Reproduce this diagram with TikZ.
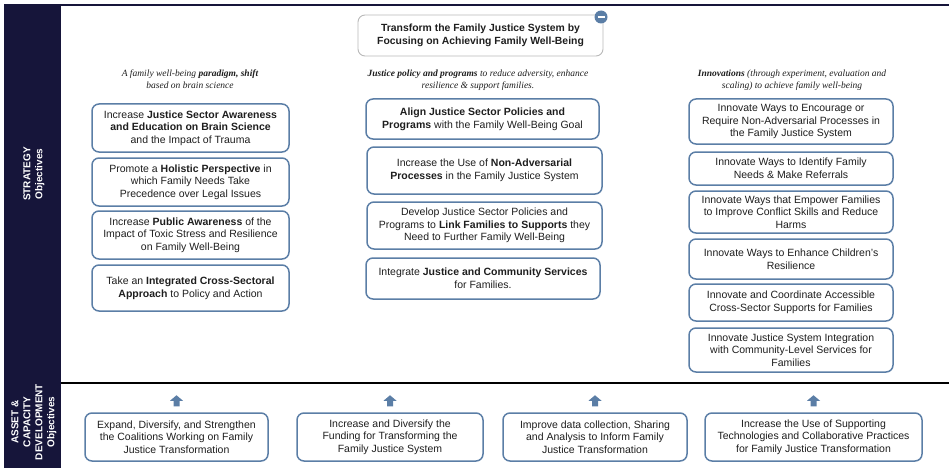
\documentclass[tikz,border=0pt]{standalone}
\usepackage{fontspec}
\setmainfont{Liberation Sans}
\newfontfamily\headserif{Liberation Serif}
\usepackage{tikz}
\usetikzlibrary{shapes}

\definecolor{sidenavy}{HTML}{16153A}
\definecolor{boxblue}{HTML}{5B7EA6}
\definecolor{goalgray}{HTML}{B8B8B8}
\definecolor{textgray}{HTML}{1E1E1E}

\tikzset{
  objbox/.style={draw=boxblue, line width=1.5pt, rounded corners=7pt, align=center,
    inner sep=1pt, text=textgray, font=\fontsize{10.5}{12.7}\selectfont},
  goalbox/.style={draw=goalgray, line width=0.9pt, rounded corners=7pt, align=center,
    inner sep=1pt, text=textgray, font=\fontsize{10.4}{13}\selectfont\bfseries},
  heading/.style={align=center, inner sep=0pt, text=textgray,
    font=\fontsize{9.5}{11.5}\selectfont\headserif\itshape},
  sidelabel/.style={rotate=90, align=center, text=white, inner sep=0pt,
    font=\fontsize{10}{12}\selectfont\bfseries},
  uparr/.pic={\fill[boxblue] (-3,0) -- (-3,-5.5) -- (-6.5,-5.5) -- (0,-11) -- (6.5,-5.5) -- (3,-5.5) -- (3,0) -- cycle;}
}

\begin{document}
\begin{tikzpicture}[x=1pt,y=-1pt]
\useasboundingbox (0,0) rectangle (949,468);

% frame and side bar
\fill [sidenavy] (4,5) rectangle (61,468);
\draw [sidenavy, line width=2pt] (4,5.5) -- (949,5.5);
\draw [black, line width=2pt] (61,383) -- (949,383);

\node (StrategyLabel) at (34,174) [sidelabel]{STRATEGY\\Objectives};
\node (AssetLabel) at (34,422) [sidelabel]{ASSET \&\\CAPACITY\\DEVELOPMENT\\Objectives};

% goal
\node (Goal) at (480.5,35.5) [goalbox, minimum width=245, minimum height=41]{Transform the Family Justice System by\\Focusing on Achieving Family Well-Being};
\node (Collapse) at (601,17) [circle, fill=boxblue, minimum size=13, inner sep=0]{\color{white}\rule[-0.8pt]{7pt}{1.6pt}};

% column headings
\node (ParadigmHead) at (190,79) [heading]{A family well-being \textbf{paradigm, shift}\\based on brain science};
\node (PolicyHead) at (478,80) [heading]{\textbf{Justice policy and programs} to reduce adversity, enhance\\resilience \& support families.};
\node (InnovHead) at (792,80) [heading]{\textbf{Innovations} (through experiment, evaluation and\\scaling) to achieve family well-being};

% paradigm column
\node (BrainScience) at (190.5,128) [objbox, minimum width=197, minimum height=48]{Increase \textbf{Justice Sector Awareness}\\\textbf{and Education on Brain Science}\\and the Impact of Trauma};
\node (Holistic) at (190.5,182) [objbox, minimum width=197, minimum height=48]{Promote a \textbf{Holistic Perspective} in\\which Family Needs Take\\Precedence over Legal Issues};
\node (PublicAware) at (190.5,235) [objbox, minimum width=197, minimum height=48]{Increase \textbf{Public Awareness} of the\\Impact of Toxic Stress and Resilience\\on Family Well-Being};
\node (CrossSector) at (190.5,288) [objbox, minimum width=197, minimum height=46]{Take an \textbf{Integrated Cross-Sectoral}\\\textbf{Approach} to Policy and Action};

% policy column
\node (AlignPolicies) at (482.5,119) [objbox, minimum width=233, minimum height=40]{\textbf{Align Justice Sector Policies and}\\\textbf{Programs} with the Family Well-Being Goal};
\node (NonAdversarial) at (484.5,170.5) [objbox, minimum width=235, minimum height=47]{Increase the Use of \textbf{Non-Adversarial}\\\textbf{Processes} in the Family Justice System};
\node (LinkSupports) at (484.5,225.5) [objbox, minimum width=235, minimum height=47]{Develop Justice Sector Policies and\\Programs to \textbf{Link Families to Supports} they\\Need to Further Family Well-Being};
\node (IntegrateServices) at (483,278.5) [objbox, minimum width=234, minimum height=41]{Integrate \textbf{Justice and Community Services}\\for Families.};

% innovation column
\node (InnovEncourage) at (791,121.5) [objbox, minimum width=204, minimum height=45]{Innovate Ways to Encourage or\\Require Non-Adversarial Processes in\\the Family Justice System};
\node (InnovIdentify) at (791,168.5) [objbox, minimum width=204, minimum height=33]{Innovate Ways to Identify Family\\Needs \& Make Referrals};
\node (InnovEmpower) at (791,212) [objbox, minimum width=204, minimum height=42]{Innovate Ways that Empower Families\\to Improve Conflict Skills and Reduce\\Harms};
\node (InnovResilience) at (791,259) [objbox, minimum width=204, minimum height=40]{Innovate Ways to Enhance Children's\\Resilience};
\node (InnovCoordinate) at (791,302.5) [objbox, minimum width=204, minimum height=37]{Innovate and Coordinate Accessible\\Cross-Sector Supports for Families};
\node (InnovIntegrate) at (791,350) [objbox, minimum width=204, minimum height=44]{Innovate Justice System Integration\\with Community-Level Services for\\Families};

% asset and capacity row
\node (Coalitions) at (176.5,437) [objbox, minimum width=183, minimum height=48]{Expand, Diversify, and Strengthen\\the Coalitions Working on Family\\Justice Transformation};
\node (Funding) at (390,437) [objbox, minimum width=186, minimum height=48]{Increase and Diversify the\\Funding for Transforming the\\Family Justice System};
\node (DataSharing) at (595,437) [objbox, minimum width=184, minimum height=48]{Improve data collection, Sharing\\and Analysis to Inform Family\\Justice Transformation};
\node (Technologies) at (813.5,437) [objbox, minimum width=217, minimum height=48]{Increase the Use of Supporting\\Technologies and Collaborative Practices\\for Family Justice Transformation};

\pic at ([yshift=6pt]Coalitions.north) {uparr};
\pic at ([yshift=6pt]Funding.north) {uparr};
\pic at ([yshift=6pt]DataSharing.north) {uparr};
\pic at ([yshift=6pt]Technologies.north) {uparr};

\end{tikzpicture}
\end{document}
